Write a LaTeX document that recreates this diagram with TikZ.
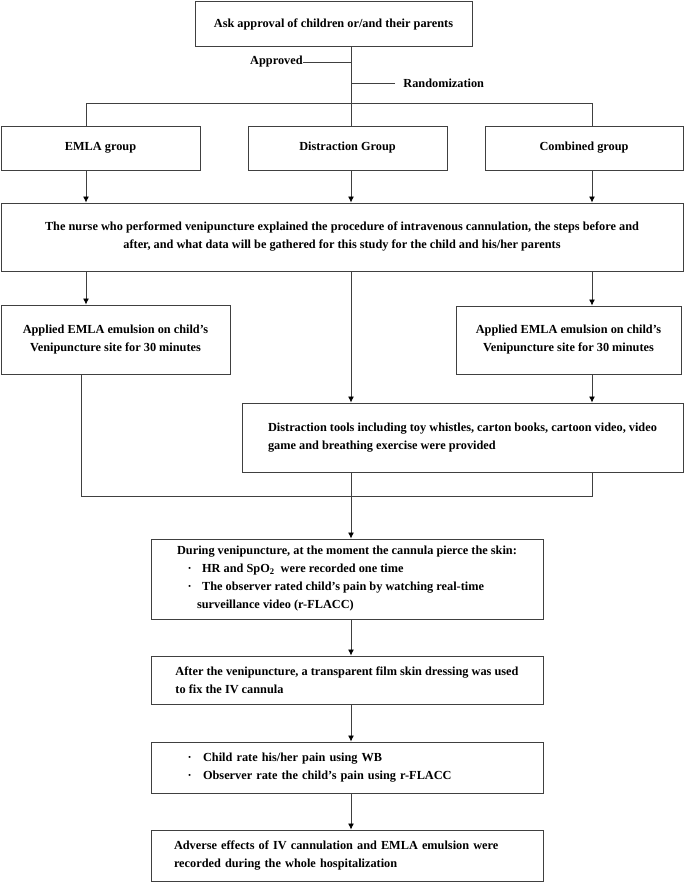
\documentclass[tikz,border=0pt]{standalone}
\usepackage{fontspec}
\setmainfont{Liberation Serif}
\usepackage{tikz}
\usetikzlibrary{arrows.meta}

\begin{document}
\begin{tikzpicture}[x=1pt, y=-1pt, >={Latex[length=6pt,width=6pt,color=black]}, line width=0.8pt, draw=black!75,
  txt/.style={font=\fontsize{12.3}{18}\selectfont\bfseries},
  box/.style={txt, rectangle, draw, line width=1pt, inner sep=0pt}]

\useasboundingbox (0,0) rectangle (685,883);

\node[box, minimum width=277, minimum height=45] (P) at (333.5,24.5) {Ask approval of children or/and their parents};
\node[txt, anchor=east, inner sep=0pt] (Ap) at (303,62) {Approved};
\node[txt, anchor=west, inner xsep=8pt, inner ysep=0pt] (Ra) at (395,83) {Randomization};

\coordinate (cL) at (86,103);
\coordinate (cM) at (351,103);
\coordinate (cR) at (592,103);

\node[box, minimum width=199, minimum height=44] (G1) at (100.5,148) {EMLA group};
\node[box, minimum width=199, minimum height=44] (G2) at (347.5,148) {Distraction Group};
\node[box, minimum width=198, minimum height=44] (G3) at (584,148) {Combined group};

\node[box, minimum width=682, minimum height=68, align=center] (N) at (342,237) {The nurse who performed venipuncture explained the procedure of intravenous cannulation, the steps before and\\ after, and what data will be gathered for this study for the child and his/her parents};

\node[box, minimum width=229, minimum height=69, align=center] (E1) at (115.5,339.5) {Applied EMLA emulsion on child’s\\ Venipuncture site for 30 minutes};
\node[box, minimum width=225, minimum height=68, align=center] (E2) at (568.5,340) {Applied EMLA emulsion on child’s\\ Venipuncture site for 30 minutes};

\node[box, minimum width=441, minimum height=69, align=left] (T) at (462.5,437.5) {Distraction tools including toy whistles, carton books, cartoon video, video\\ game and breathing exercise were provided};

\coordinate (jL) at (81,496);
\coordinate (jR) at (592,496);

\node[box, minimum width=392, minimum height=80, align=left] (S1) at (347,579) {During venipuncture, at the moment the cannula pierce the skin:\\
  \hspace*{10.5pt}·\hspace*{10.5pt}HR and SpO\textsubscript{2}\hspace{3pt} were recorded one time\\
  \hspace*{10.5pt}·\hspace*{10.5pt}The observer rated child’s pain by watching real-time\\
  \hspace*{20pt}surveillance video (r-FLACC)};
\node[box, minimum width=392, minimum height=48, align=left] (S2) at (347,680) {After the venipuncture, a transparent film skin dressing was used\\ to fix the IV cannula};
\node[box, minimum width=392, minimum height=51, text width=346, align=left] (S3) at (347,767.5) {\hspace*{13.5pt}·\hspace*{11.5pt}Child rate his/her pain using WB\\
  \hspace*{13.5pt}·\hspace*{11.5pt}Observer rate the child’s pain using r-FLACC};
\node[box, minimum width=392, minimum height=51, text width=346, align=left] (S4) at (347,855.5) {Adverse effects of IV cannulation and EMLA emulsion were\\ recorded during the whole hospitalization};

% approval and randomization
\draw (P.south -| cM) -- (cM);
\draw (Ap.east) -- (Ap.east -| cM);
\draw (Ra.west) -- (Ra.west -| cM);
\draw (cL |- G1.north) -- (cL) -- (cR) -- (cR |- G3.north);
\draw (cM) -- (cM |- G2.north);

\draw[->] (G1.south -| cL) -- (N.north -| cL);
\draw[->] (G2.south -| cM) -- (N.north -| cM);
\draw[->] (G3.south -| cR) -- (N.north -| cR);

\draw[->] (N.south -| cL) -- (E1.north -| cL);
\draw[->] (N.south -| cR) -- (E2.north -| cR);
\draw[->] (N.south -| cM) -- (T.north -| cM);
\draw[->] (E2.south -| cR) -- (T.north -| cR);

\draw (E1.south -| jL) -- (jL) -- (jR) -- (T.south -| jR);
\draw[->] (T.south -| cM) -- (S1.north -| cM);

\draw[->] (S1.south -| cM) -- (S2.north -| cM);
\draw[->] (S2.south -| cM) -- (S3.north -| cM);
\draw[->] (S3.south -| cM) -- (S4.north -| cM);

\end{tikzpicture}
\end{document}
